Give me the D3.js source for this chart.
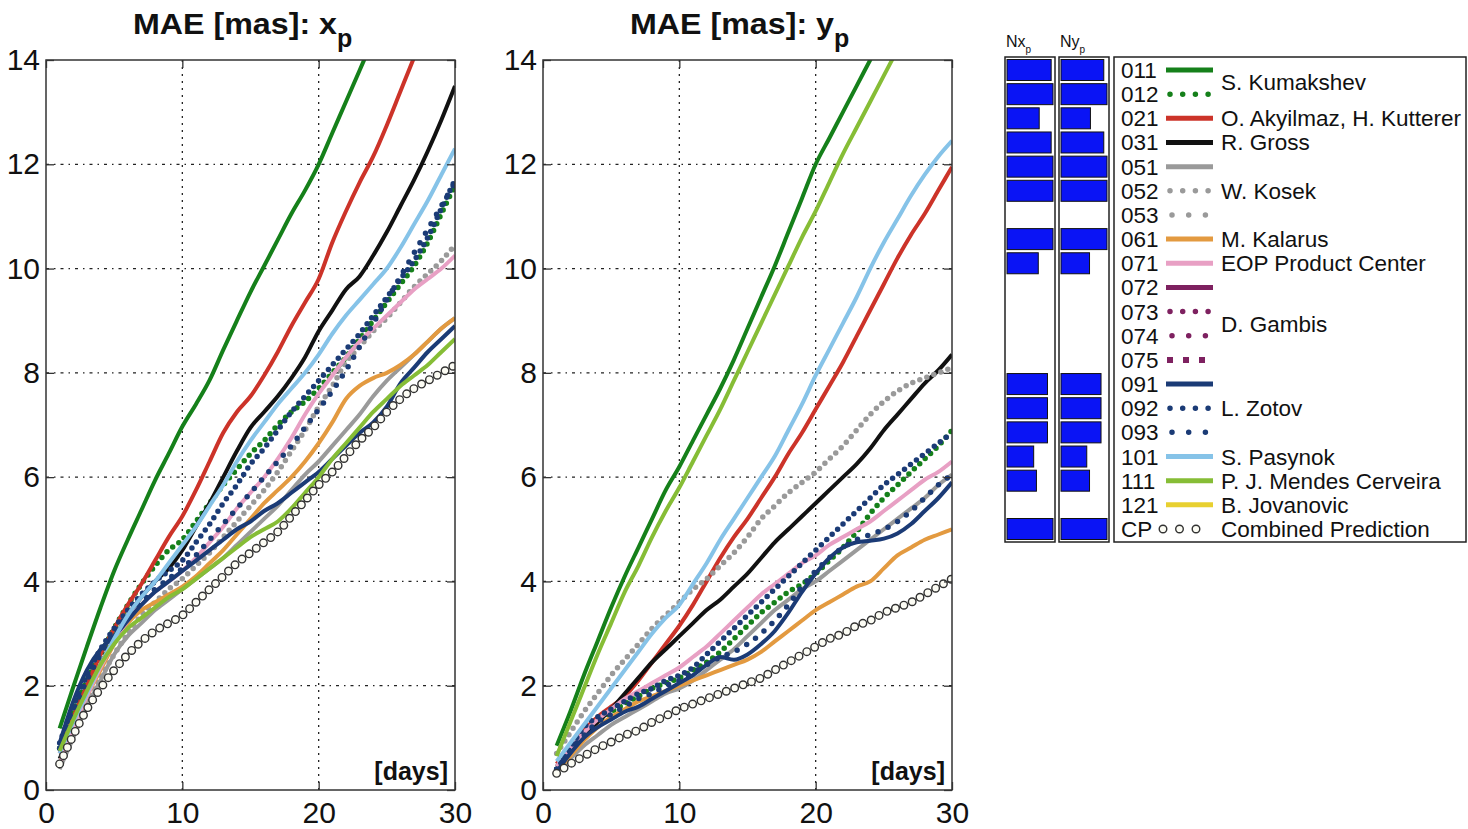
<!DOCTYPE html>
<html lang="en">
<head>
<meta charset="UTF-8">
<title>MAE polar motion</title>
<script src="https://cdn.jsdelivr.net/npm/d3@7"></script>
<style>
  body { margin: 0; background: #fff; }
  text { font-family: "Liberation Sans", Arial, sans-serif; fill: #111; }
</style>
</head>
<body>
<div id="chart"></div>
<script>
// prediction days
var days = d3.range(1, 31);
var yTicks = [0, 2, 4, 6, 8, 10, 12, 14];
var xTicks = [0, 10, 20, 30];

// legend rows
var codes = ["011","012","021","031","051","052","053","061","071","072","073","074","075","091","092","093","101","111","121","CP"];
var names = ["S. Kumakshev","O. Akyilmaz, H. Kutterer","R. Gross","W. Kosek","M. Kalarus","EOP Product Center","D. Gambis","L. Zotov","S. Pasynok","P. J. Mendes Cerveira","B. Jovanovic","Combined Prediction"];
var nameRows = [0.5, 2, 3, 5, 7, 8, 10.5, 14, 16, 17, 18, 19];

// share of predictions submitted (Nx_p, Ny_p bars)
var nxShare = [0.96,1,0.7,0.96,1,1,0,1,0.68,0,0,0,0,0.88,0.88,0.88,0.58,0.64,0,1];
var nyShare = [0.93,1,0.64,0.93,1,1,0,1,0.62,0,0,0,0,0.87,0.87,0.87,0.56,0.62,0,1];

// MAE x_p [mas]
var xp011 = [1.18,1.98,2.75,3.5,4.2,4.8,5.37,5.94,6.45,6.97,7.4,7.86,8.44,9.0,9.55,10.05,10.55,11.05,11.5,12.0,12.6,13.2,13.8,14.4];
var xp012 = [0.8,1.5,2.1,2.6,3.1,3.55,3.95,4.3,4.6,4.8,5.15,5.5,5.85,6.15,6.45,6.7,7.0,7.25,7.45,7.7,8.0,8.3,8.65,9.0,9.35,9.7,10.05,10.5,11.05,11.6];
var xp021 = [0.7,1.4,2.0,2.6,3.1,3.55,3.95,4.4,4.85,5.25,5.75,6.3,6.85,7.25,7.55,7.95,8.4,8.9,9.35,9.8,10.5,11.1,11.65,12.15,12.75,13.4,14.05];
var xp031 = [0.6,1.2,1.8,2.4,2.9,3.35,3.7,4.0,4.25,4.6,5.05,5.5,6.0,6.5,6.95,7.25,7.55,7.9,8.3,8.8,9.2,9.6,9.85,10.25,10.7,11.2,11.7,12.25,12.85,13.5];
var xp051 = [0.4,1.0,1.6,2.1,2.6,2.95,3.2,3.45,3.65,3.85,4.05,4.25,4.45,4.7,4.95,5.2,5.45,5.75,6.05,6.3,6.6,6.9,7.2,7.55,7.85,8.1,8.35,8.6,8.85,9.05];
var xp052 = [0.5,1.1,1.65,2.15,2.6,3.0,3.35,3.6,3.85,4.05,4.3,4.55,4.85,5.15,5.45,5.75,6.1,6.5,6.9,7.35,7.75,8.2,8.5,8.8,9.05,9.35,9.65,9.9,10.15,10.45];
var xp061 = [0.5,1.2,1.8,2.3,2.8,3.2,3.45,3.6,3.75,3.9,4.1,4.35,4.6,4.9,5.2,5.5,5.75,6.0,6.3,6.65,7.05,7.5,7.75,7.9,8.0,8.15,8.35,8.6,8.85,9.05];
var xp071 = [0.5,1.2,1.8,2.35,2.85,3.25,3.55,3.8,4.0,4.2,4.45,4.75,5.05,5.4,5.7,6.0,6.35,6.75,7.2,7.6,7.95,8.3,8.6,8.85,9.1,9.35,9.6,9.8,10.0,10.25];
var xp091 = [0.9,1.7,2.3,2.7,2.95,3.25,3.55,3.8,4.0,4.2,4.4,4.6,4.8,5.0,5.15,5.35,5.5,5.7,5.9,6.1,6.35,6.6,6.85,7.05,7.35,7.8,8.1,8.4,8.65,8.9];
var xp092 = [0.9,1.6,2.2,2.7,3.1,3.45,3.75,4.0,4.2,4.4,4.75,5.1,5.5,5.85,6.25,6.55,6.9,7.25,7.55,7.85,8.15,8.45,8.75,9.1,9.45,9.8,10.15,10.6,11.15,11.7];
var xp093 = [0.8,1.5,2.1,2.6,3.0,3.35,3.6,3.85,4.05,4.25,4.5,4.8,5.1,5.4,5.7,6.0,6.3,6.6,6.95,7.3,7.65,8.05,8.5,8.95,9.4,9.85,10.3,10.75,11.2,11.65];
var xp101 = [0.7,1.3,1.85,2.4,2.9,3.35,3.7,4.0,4.35,4.7,5.05,5.45,5.85,6.3,6.7,7.05,7.4,7.7,8.0,8.35,8.75,9.1,9.4,9.7,10.0,10.4,10.85,11.3,11.8,12.3];
var xp111 = [0.75,1.35,1.9,2.4,2.8,3.1,3.3,3.5,3.7,3.85,4.05,4.25,4.45,4.65,4.85,5.0,5.15,5.4,5.7,6.0,6.35,6.65,6.95,7.25,7.5,7.75,7.95,8.15,8.4,8.65];
var xpCP  = [0.5,1.05,1.55,1.95,2.3,2.6,2.85,3.05,3.2,3.35,3.6,3.85,4.1,4.35,4.55,4.75,4.95,5.25,5.55,5.85,6.1,6.4,6.7,6.95,7.25,7.5,7.7,7.85,8.0,8.15];

// MAE y_p [mas]
var yp011 = [0.85,1.5,2.2,2.85,3.5,4.1,4.65,5.2,5.75,6.2,6.7,7.2,7.7,8.25,8.85,9.45,10.05,10.7,11.35,12.0,12.5,13.0,13.5,14.0,14.5];
var yp012 = [0.4,0.75,1.05,1.3,1.5,1.65,1.8,1.95,2.05,2.15,2.3,2.45,2.65,2.9,3.15,3.4,3.6,3.8,3.95,4.15,4.4,4.65,4.95,5.3,5.6,5.85,6.1,6.35,6.6,6.9];
var yp021 = [0.5,0.85,1.15,1.4,1.6,1.8,2.1,2.45,2.8,3.15,3.55,4.0,4.45,4.85,5.2,5.6,6.0,6.45,6.85,7.3,7.75,8.2,8.7,9.2,9.7,10.2,10.65,11.05,11.5,11.95];
var yp031 = [0.45,0.75,1.05,1.3,1.55,1.85,2.15,2.45,2.7,2.95,3.2,3.45,3.65,3.9,4.15,4.45,4.75,5.0,5.25,5.5,5.75,6.0,6.25,6.55,6.9,7.2,7.5,7.8,8.05,8.35];
var yp051 = [0.35,0.6,0.85,1.05,1.25,1.4,1.55,1.7,1.85,1.95,2.1,2.3,2.5,2.7,2.95,3.2,3.45,3.65,3.85,4.0,4.2,4.4,4.6,4.8,5.0,5.2,5.4,5.6,5.85,6.05];
var yp052 = [0.7,1.1,1.5,1.85,2.2,2.5,2.8,3.1,3.35,3.6,3.85,4.05,4.3,4.55,4.85,5.2,5.45,5.7,5.9,6.1,6.35,6.6,6.9,7.2,7.45,7.65,7.8,7.9,8.0,8.1];
var yp061 = [0.35,0.65,0.95,1.2,1.4,1.55,1.7,1.8,1.9,2.0,2.1,2.2,2.3,2.4,2.5,2.65,2.85,3.05,3.25,3.45,3.6,3.75,3.9,4.0,4.25,4.5,4.65,4.8,4.9,5.0];
var yp071 = [0.45,0.8,1.1,1.35,1.55,1.75,1.9,2.05,2.2,2.35,2.55,2.75,3.0,3.25,3.5,3.75,3.95,4.15,4.35,4.5,4.7,4.85,5.0,5.15,5.35,5.55,5.75,5.95,6.1,6.3];
var yp091 = [0.35,0.7,1.0,1.2,1.35,1.5,1.6,1.75,1.9,2.05,2.2,2.4,2.55,2.5,2.6,2.8,3.05,3.4,3.8,4.15,4.45,4.65,4.75,4.78,4.82,4.92,5.1,5.35,5.6,5.9];
var yp092 = [0.4,0.8,1.2,1.4,1.55,1.7,1.85,1.95,2.1,2.2,2.35,2.6,2.85,3.1,3.35,3.6,3.85,4.1,4.35,4.6,4.85,5.1,5.35,5.6,5.85,6.05,6.25,6.45,6.65,6.85];
var yp093 = [0.4,0.75,1.05,1.3,1.45,1.6,1.75,1.85,2.0,2.1,2.25,2.4,2.55,2.65,2.8,3.0,3.25,3.55,3.9,4.2,4.45,4.65,4.8,4.9,5.0,5.15,5.35,5.6,5.85,6.05];
var yp101 = [0.55,0.9,1.25,1.6,1.95,2.3,2.65,3.0,3.3,3.55,3.95,4.35,4.8,5.2,5.6,6.0,6.4,6.9,7.4,7.95,8.45,8.95,9.45,10.0,10.5,10.95,11.4,11.8,12.15,12.45];
var yp111 = [0.65,1.3,1.95,2.6,3.2,3.8,4.3,4.85,5.35,5.8,6.3,6.8,7.3,7.85,8.4,8.95,9.5,10.05,10.6,11.1,11.65,12.2,12.7,13.2,13.7,14.2];
var ypCP  = [0.32,0.5,0.65,0.8,0.92,1.05,1.15,1.3,1.42,1.55,1.65,1.75,1.85,1.95,2.05,2.15,2.3,2.45,2.6,2.75,2.9,3.0,3.15,3.25,3.4,3.5,3.6,3.75,3.9,4.05];

// series drawn in each panel (legend order, later ones on top)
var xpSeries = [["011",xp011],["012",xp012],["021",xp021],["031",xp031],["051",xp051],["052",xp052],["061",xp061],["071",xp071],["091",xp091],["092",xp092],["093",xp093],["101",xp101],["111",xp111],["CP",xpCP]];
var ypSeries = [["011",yp011],["012",yp012],["021",yp021],["031",yp031],["051",yp051],["052",yp052],["061",yp061],["071",yp071],["091",yp091],["092",yp092],["093",yp093],["101",yp101],["111",yp111],["CP",ypCP]];

// look of each series
var colour = {
  "011":"#15801a","012":"#15801a","021":"#cc3329","031":"#111111",
  "051":"#9a9a9a","052":"#9a9a9a","053":"#9a9a9a","061":"#e39a40",
  "071":"#e8a0c4","072":"#7e2160","073":"#7e2160","074":"#7e2160","075":"#7e2160",
  "091":"#1b3b76","092":"#1b3b76","093":"#1b3b76","101":"#86c3e8",
  "111":"#86bd36","121":"#e8d030","CP":"#222222"
};
var kind = {
  "011":"solid","012":"dot","021":"solid","031":"solid","051":"solid","052":"dot","053":"sparse",
  "061":"solid","071":"solid","072":"solid","073":"dot","074":"sparse","075":"square",
  "091":"solid","092":"dot","093":"sparse","101":"solid","111":"solid","121":"solid","CP":"circle"
};

var svg = d3.select("#chart").append("svg")
    .attr("width", 1468)
    .attr("height", 829);

var plotTop = 60, plotBottom = 790;
var y = d3.scaleLinear().domain([0, 14]).range([plotBottom, plotTop]);

// style a path like the matlab line of that series
function styleLine(sel, code, legend) {
  var k = kind[code], c = colour[code];
  sel.attr("fill", "none").attr("stroke", c);
  if (k == "solid") {
    sel.attr("stroke-width", legend ? 5 : 4).attr("stroke-linejoin", "round");
  } else if (k == "dot") {
    sel.attr("stroke-width", 5.5).attr("stroke-linecap", "round")
       .attr("stroke-dasharray", legend ? "0 12.7" : "0 7.5");
  } else if (k == "sparse") {
    sel.attr("stroke-width", 5.5).attr("stroke-linecap", "round")
       .attr("stroke-dasharray", legend ? "0 16.7" : "0 11");
  } else if (k == "square") {
    sel.attr("stroke-width", 6).attr("stroke-dasharray", "6 10");
  }
}

// open circle markers: dark dots with a lighter dot on top
function drawCircles(g, d, line, legend) {
  var gap = legend ? "0 16.5" : "0 9";
  g.append("path").datum(d).attr("d", line)
    .attr("fill", "none").attr("stroke", "#333").attr("stroke-width", 9)
    .attr("stroke-linecap", "round").attr("stroke-dasharray", gap);
  g.append("path").datum(d).attr("d", line)
    .attr("fill", "none").attr("stroke", "#fcfcf4").attr("stroke-width", 6.2)
    .attr("stroke-linecap", "round").attr("stroke-dasharray", gap);
}

var panels = [
  {name: "x", series: xpSeries, left: 46, right: 455},
  {name: "y", series: ypSeries, left: 543, right: 952}
];

panels.forEach(function(p, pi) {
  var x = d3.scaleLinear().domain([0, 30]).range([p.left, p.right]);
  var g = svg.append("g");

  // grid
  g.selectAll(".vgrid").data([10, 20]).enter().append("line")
    .attr("x1", function(d) { return x(d); }).attr("x2", function(d) { return x(d); })
    .attr("y1", plotTop).attr("y2", plotBottom)
    .attr("stroke", "#222").attr("stroke-width", 1.3).attr("stroke-dasharray", "2 5");
  g.selectAll(".hgrid").data([2, 4, 6, 8, 10, 12]).enter().append("line")
    .attr("x1", p.left).attr("x2", p.right)
    .attr("y1", function(d) { return y(d); }).attr("y2", function(d) { return y(d); })
    .attr("stroke", "#222").attr("stroke-width", 1.3).attr("stroke-dasharray", "3 5 1.5 5");

  // clip to the axes box
  svg.append("clipPath").attr("id", "clip" + pi).append("rect")
    .attr("x", p.left).attr("y", plotTop)
    .attr("width", p.right - p.left).attr("height", plotBottom - plotTop);

  var line = d3.line()
    .x(function(d) { return x(d[0]); })
    .y(function(d) { return y(d[1]); })
    .curve(d3.curveMonotoneX);

  var lines = g.append("g").attr("clip-path", "url(#clip" + pi + ")");
  p.series.forEach(function(s) {
    var pts = s[1].map(function(v, i) { return [days[i], v]; });
    if (kind[s[0]] == "circle") {
      drawCircles(lines, pts, line, false);
    } else {
      lines.append("path").datum(pts).attr("d", line).call(styleLine, s[0], false);
    }
  });

  // box
  g.append("rect")
    .attr("x", p.left).attr("y", plotTop)
    .attr("width", p.right - p.left).attr("height", plotBottom - plotTop)
    .attr("fill", "none").attr("stroke", "#333").attr("stroke-width", 1.5);

  // axes with inward ticks
  var ax = g.append("g").attr("transform", "translate(0," + plotBottom + ")")
    .call(d3.axisBottom(x).tickValues(xTicks).tickSize(-8).tickPadding(12));
  var ay = g.append("g").attr("transform", "translate(" + p.left + ",0)")
    .call(d3.axisLeft(y).tickValues(yTicks).tickSize(-8).tickPadding(6));
  g.append("g").attr("transform", "translate(" + p.right + ",0)")
    .call(d3.axisRight(y).tickValues(yTicks).tickSize(-8).tickFormat(""));
  g.append("g").attr("transform", "translate(0," + plotTop + ")")
    .call(d3.axisTop(x).tickValues(xTicks).tickSize(-8).tickFormat(""));
  g.selectAll(".domain").remove();
  g.selectAll(".tick line").attr("stroke", "#333").attr("stroke-width", 1.3);
  ax.selectAll("text").attr("font-size", 30).attr("fill", "#111");
  ay.selectAll("text").attr("font-size", 30).attr("fill", "#111");

  // title
  var t = g.append("text")
    .attr("x", p.left + 87).attr("y", 34)
    .attr("font-weight", "bold").attr("font-size", 29);
  t.append("tspan").attr("textLength", 204).attr("lengthAdjust", "spacingAndGlyphs")
    .text("MAE [mas]: " + p.name);
  t.append("tspan").attr("dy", 13).attr("font-size", 25).text("p");

  g.append("text")
    .attr("x", p.right - 7).attr("y", 780)
    .attr("text-anchor", "end").attr("font-weight", "bold").attr("font-size", 25)
    .text("[days]");
});

// legend
var rowY = d3.scaleLinear().domain([0, 19]).range([70, 529]);
var barW = d3.scaleLinear().domain([0, 1]).range([0, 46]);

var leg = svg.append("g");
[["x", 1005, nxShare], ["y", 1059, nyShare]].forEach(function(c) {
  leg.append("rect").attr("x", c[1]).attr("y", 57).attr("width", 50).attr("height", 485)
    .attr("fill", "#fff").attr("stroke", "#222").attr("stroke-width", 1.5);
  leg.selectAll(".bar" + c[0]).data(c[2]).enter().append("rect")
    .attr("x", c[1] + 2)
    .attr("y", function(d, i) { return rowY(i) - 10.5; })
    .attr("width", function(d) { return barW(d); })
    .attr("height", 21)
    .attr("fill", "#0a14f5")
    .attr("stroke", "#111").attr("stroke-width", 1)
    .style("display", function(d) { return d > 0 ? null : "none"; });
  var h = leg.append("text").attr("x", c[1] + 1).attr("y", 47).attr("font-size", 16).attr("fill", "#333");
  h.append("tspan").text("N" + c[0]);
  h.append("tspan").attr("dy", 6).attr("font-size", 10).text("p");
});

leg.append("rect").attr("x", 1114).attr("y", 57).attr("width", 352).attr("height", 485)
  .attr("fill", "#fff").attr("stroke", "#222").attr("stroke-width", 1.5);

leg.selectAll(".code").data(codes).enter().append("text")
  .attr("x", 1121).attr("y", function(d, i) { return rowY(i) + 8; })
  .attr("font-size", 22.5).attr("fill", "#222")
  .text(function(d) { return d; });

codes.forEach(function(c, i) {
  var pts = [[1166, rowY(i)], [1213, rowY(i)]];
  var l = d3.line();
  if (kind[c] == "circle") {
    drawCircles(leg, [[1163, rowY(i)], [1200, rowY(i)]], l, true);
  } else {
    if (kind[c] != "solid") pts = [[1170, rowY(i)], [1210, rowY(i)]];
    if (kind[c] == "sparse") pts = [[1172, rowY(i)], [1206, rowY(i)]];
    if (kind[c] == "square") pts = [[1167, rowY(i)], [1213, rowY(i)]];
    leg.append("path").datum(pts).attr("d", l).call(styleLine, c, true);
  }
});

leg.selectAll(".name").data(names).enter().append("text")
  .attr("x", 1221).attr("y", function(d, i) { return rowY(nameRows[i]) + 8; })
  .attr("font-size", 22.5).attr("fill", "#222")
  .text(function(d) { return d; });
</script>
</body>
</html>
